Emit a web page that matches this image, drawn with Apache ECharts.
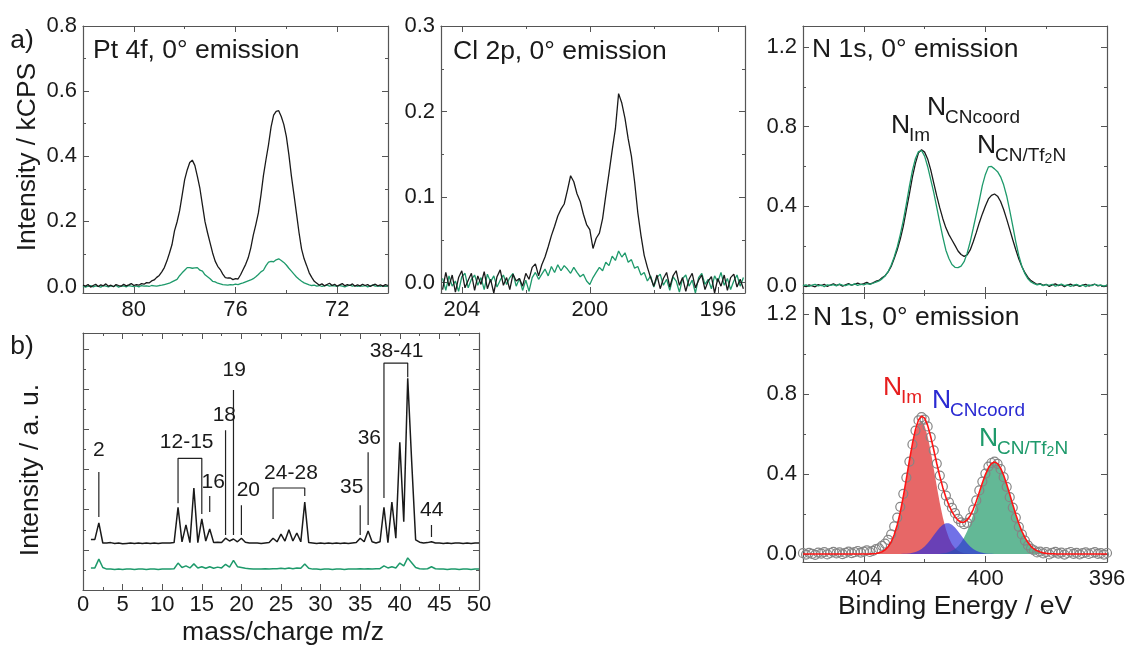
<!DOCTYPE html>
<html>
<head>
<meta charset="utf-8">
<script src="https://cdn.jsdelivr.net/npm/echarts@6/dist/echarts.min.js"></script>
<style>
  html, body { margin: 0; padding: 0; background: #fff; }
  #chart { width: 1127px; height: 646px; }
</style>
</head>
<body>
<div id="chart"></div>
<script>
// ---------- Pt 4f, 0° emission (binding energy grid 82.0 -> 70.0 eV, 0.1 eV step) ----------
const ptStart = 82.0, ptStep = -0.1;
const ptBlack = [
  0.004, 0.001, 0.006, -0.002, 0.003, 0.007, 0.000, 0.005, 0.002, 0.008,
  0.001, 0.004, -0.001, 0.006, 0.003, 0.001, 0.007, 0.002, 0.005, 0.009,
  0.003, 0.006, 0.004, 0.009, 0.007, 0.012, 0.011, 0.017, 0.020, 0.028,
  0.034, 0.045, 0.058, 0.078, 0.102, 0.128, 0.171, 0.198, 0.232, 0.280,
  0.328, 0.358, 0.381, 0.388, 0.372, 0.338, 0.301, 0.250, 0.199, 0.165,
  0.134, 0.103, 0.078, 0.062, 0.052, 0.038, 0.027, 0.026, 0.026, 0.021,
  0.024, 0.023, 0.036, 0.052, 0.068, 0.088, 0.118, 0.158, 0.190, 0.226,
  0.280, 0.341, 0.390, 0.436, 0.490, 0.526, 0.538, 0.540, 0.522, 0.498,
  0.461, 0.405, 0.339, 0.282, 0.224, 0.165, 0.115, 0.085, 0.064, 0.042,
  0.028, 0.016, 0.010, 0.004, 0.008, 0.002, 0.006, 0.010, 0.003, 0.007,
  0.001, 0.005, 0.009, 0.002, 0.006, 0.003, 0.008, 0.001, 0.005, 0.002,
  0.007, 0.003, 0.006, 0.000, 0.004, 0.007, 0.002, 0.005, 0.001, 0.006,
  0.003
];
const ptGreen = [
  0.002, -0.002, 0.001, 0.003, -0.001, 0.002, 0.000, -0.002, 0.003, 0.001,
  -0.001, 0.002, 0.000, 0.003, -0.002, 0.001, 0.002, -0.001, 0.003, 0.001,
  0.000, 0.002, -0.001, 0.003, 0.001, 0.002, 0.000, 0.003, 0.002, 0.001,
  0.003, 0.004, 0.006, 0.008, 0.010, 0.014, 0.018, 0.022, 0.033, 0.042,
  0.050, 0.058, 0.058, 0.056, 0.057, 0.058, 0.050, 0.047, 0.036, 0.030,
  0.024, 0.016, 0.014, 0.010, 0.008, 0.006, 0.005, 0.004, 0.006, 0.005,
  0.007, 0.006, 0.009, 0.011, 0.014, 0.017, 0.020, 0.024, 0.030, 0.037,
  0.045, 0.050, 0.064, 0.075, 0.077, 0.076, 0.082, 0.085, 0.080, 0.074,
  0.066, 0.056, 0.047, 0.038, 0.029, 0.022, 0.016, 0.011, 0.008, 0.005,
  0.003, 0.004, 0.001, 0.003, 0.000, 0.002, 0.004, 0.001, 0.003, 0.002,
  0.000, 0.003, 0.001, -0.001, 0.002, 0.004, 0.001, 0.003, 0.000, 0.002,
  0.001, 0.003, -0.001, 0.002, 0.004, 0.001, 0.002, 0.000, 0.003, 0.001,
  0.002
];

// ---------- Cl 2p, 0° emission (204.6 -> 195.2 eV, 0.1 eV step) ----------
const clStart = 204.6, clStep = -0.1;
const clBlack = [
  -0.008, 0.012, -0.004, 0.009, -0.011, 0.006, 0.014, -0.006, 0.003, 0.011,
  -0.009, 0.008, -0.002, 0.013, -0.007, 0.004, -0.012, 0.007, 0.015, -0.003,
  0.006, -0.008, 0.010, 0.002, 0.005, -0.004, 0.011, 0.004, 0.018, 0.022,
  0.008, 0.021, 0.030, 0.042, 0.055, 0.066, 0.078, 0.086, 0.092, 0.108,
  0.125, 0.118, 0.104, 0.095, 0.080, 0.068, 0.062, 0.040, 0.052, 0.058,
  0.075, 0.102, 0.128, 0.155, 0.180, 0.221, 0.210, 0.192, 0.168, 0.148,
  0.118, 0.082, 0.055, 0.032, 0.018, 0.006, -0.004, 0.009, -0.007, 0.005,
  0.012, -0.005, 0.008, 0.014, -0.003, 0.006, -0.010, 0.004, 0.011, -0.006,
  0.003, 0.009, -0.008, 0.002, 0.007, -0.012, 0.005, -0.004, 0.009, -0.009,
  0.006, 0.010, -0.005, 0.004, -0.007
];
const clGreen = [
  0.005, -0.009, 0.008, -0.004, 0.002, -0.010, 0.007, 0.011, -0.006, 0.004,
  0.009, -0.003, 0.006, -0.008, 0.010, 0.001, 0.008, -0.005, 0.003, 0.009,
  -0.002, 0.006, 0.011, -0.004, 0.005, -0.009, 0.003, -0.010, 0.006, 0.012,
  0.004, 0.010, 0.016, 0.008, 0.019, 0.012, 0.021, 0.014, 0.020, 0.016,
  0.011, 0.018, 0.012, 0.007, 0.010, 0.002, -0.002, 0.006, 0.012, 0.018,
  0.014, 0.024, 0.020, 0.031, 0.026, 0.037, 0.030, 0.035, 0.024, 0.027,
  0.017, 0.019, 0.009, 0.012, 0.002, 0.008, -0.005, 0.006, 0.010, -0.003,
  0.004, -0.009, 0.007, 0.002, -0.011, 0.005, 0.009, -0.004, 0.003, -0.012,
  0.006, 0.011, -0.002, 0.004, -0.007, 0.008, 0.001, 0.012, -0.003, 0.005,
  -0.008, 0.002, 0.009, -0.004, 0.006
];

// ---------- N 1s, 0° emission (406.0 -> 396.0 eV, 0.1 eV step) ----------
const nStart = 406.0, nStep = -0.1;
const nBlack = [
  0.004, -0.003, 0.006, 0.001, -0.004, 0.007, 0.002, 0.009, -0.002, 0.005,
  0.011, 0.003, 0.008, -0.001, 0.006, 0.012, 0.004, 0.009, 0.015, 0.007,
  0.012, 0.018, 0.010, 0.016, 0.024, 0.028, 0.041, 0.052, 0.071, 0.098,
  0.138, 0.182, 0.236, 0.301, 0.382, 0.462, 0.548, 0.617, 0.668, 0.684,
  0.672, 0.638, 0.584, 0.518, 0.452, 0.392, 0.338, 0.292, 0.258, 0.231,
  0.204, 0.176, 0.158, 0.149, 0.156, 0.181, 0.222, 0.268, 0.318, 0.362,
  0.402, 0.437, 0.455, 0.462, 0.451, 0.424, 0.384, 0.336, 0.284, 0.232,
  0.182, 0.136, 0.098, 0.067, 0.043, 0.027, 0.018, 0.008, 0.012, 0.003,
  0.009, -0.002, 0.006, 0.011, 0.002, 0.007, -0.003, 0.005, 0.010, 0.001,
  0.006, -0.002, 0.004, 0.008, 0.000, 0.005, 0.009, 0.001, 0.004, -0.003,
  0.005
];
const nGreen = [
  0.002, 0.006, -0.002, 0.004, 0.008, 0.001, 0.005, -0.003, 0.006, 0.003,
  0.007, 0.001, 0.010, 0.004, 0.002, 0.008, 0.005, 0.011, 0.003, 0.009,
  0.006, 0.012, 0.008, 0.014, 0.020, 0.026, 0.036, 0.050, 0.072, 0.104,
  0.146, 0.196, 0.258, 0.330, 0.412, 0.500, 0.580, 0.640, 0.675, 0.680,
  0.652, 0.600, 0.535, 0.470, 0.395, 0.318, 0.245, 0.180, 0.138, 0.108,
  0.094, 0.092, 0.100, 0.122, 0.165, 0.222, 0.290, 0.360, 0.430, 0.505,
  0.560, 0.598, 0.600, 0.588, 0.574, 0.548, 0.508, 0.452, 0.380, 0.302,
  0.222, 0.152, 0.098, 0.062, 0.036, 0.020, 0.012, 0.006, 0.010, 0.002,
  0.007, 0.003, 0.009, -0.001, 0.005, 0.010, 0.002, 0.006, -0.002, 0.004,
  0.008, 0.001, 0.005, -0.003, 0.006, 0.002, 0.009, 0.003, 0.005, 0.000,
  0.004
];
// Fitted components on the same grid
const fitIm = [
  0, 0, 0, 0, 0, 0, 0, 0, 0, 0,
  0, 0, 0, 0, 0, 0, 0, 0, 0, 0,
  0.0001, 0.0002, 0.0006, 0.0013, 0.0028, 0.0057, 0.011, 0.0205, 0.036, 0.0602,
  0.096, 0.1453, 0.2093, 0.2868, 0.3738, 0.4635, 0.5466, 0.6133, 0.6544, 0.6643,
  0.6415, 0.5892, 0.5148, 0.4279, 0.3382, 0.2544, 0.1819, 0.1238, 0.0801, 0.0493,
  0.0289, 0.0161, 0.0085, 0.0043, 0.0021, 0.0009, 0.0004, 0.0002, 0.0001, 0,
  0, 0, 0, 0, 0, 0, 0, 0, 0, 0,
  0, 0, 0, 0, 0, 0, 0, 0, 0, 0,
  0, 0, 0, 0, 0, 0, 0, 0, 0, 0,
  0, 0, 0, 0, 0, 0, 0, 0, 0, 0,
  0
];
const fitCNcoord = [
  0, 0, 0, 0, 0, 0, 0, 0, 0, 0,
  0, 0, 0, 0, 0, 0, 0, 0, 0, 0,
  0, 0, 0, 0, 0, 0, 0, 0, 0, 0,
  0, 0, 0.0004, 0.0008, 0.0016, 0.0031, 0.0057, 0.0098, 0.0162, 0.0255,
  0.038, 0.0539, 0.0728, 0.0934, 0.1141, 0.1326, 0.1466, 0.1541, 0.1541, 0.1466,
  0.1326, 0.1141, 0.0934, 0.0728, 0.0539, 0.038, 0.0255, 0.0162, 0.0098, 0.0057,
  0.0031, 0.0016, 0.0008, 0.0004, 0, 0, 0, 0, 0, 0,
  0, 0, 0, 0, 0, 0, 0, 0, 0, 0,
  0, 0, 0, 0, 0, 0, 0, 0, 0, 0,
  0, 0, 0, 0, 0, 0, 0, 0, 0, 0,
  0
];
const fitCNTf2N = [
  0, 0, 0, 0, 0, 0, 0, 0, 0, 0,
  0, 0, 0, 0, 0, 0, 0, 0, 0, 0,
  0, 0, 0, 0, 0, 0, 0, 0, 0, 0,
  0, 0, 0, 0, 0, 0, 0, 0, 0, 0,
  0, 0, 0, 0, 0, 0.0017, 0.0032, 0.0056, 0.0095, 0.0157,
  0.025, 0.0384, 0.0571, 0.082, 0.1139, 0.1526, 0.1976, 0.2473, 0.299, 0.349,
  0.394, 0.4293, 0.4521, 0.46, 0.4521, 0.4293, 0.394, 0.349, 0.299, 0.2473,
  0.1976, 0.1526, 0.1139, 0.082, 0.0571, 0.0384, 0.025, 0.0157, 0.0095, 0.0056,
  0.0032, 0.0017, 0.0009, 0.0004, 0.0002, 0.0001, 0, 0, 0, 0,
  0, 0, 0, 0, 0, 0, 0, 0, 0, 0,
  0
];

// ---------- Mass spectrum (m/z 1 -> 50, 0.5 step) ----------
const qmsStart = 1, qmsStep = 0.5;
const qmsBlack = [
  1.26, 1.26, 1.67, 1.17, 1.17, 1.18, 1.16, 1.17, 1.15, 1.16,
  1.17, 1.16, 1.17, 1.16, 1.17, 1.16, 1.17, 1.16, 1.17, 1.17,
  1.17, 1.18, 2.06, 1.20, 1.62, 1.18, 2.54, 1.18, 1.77, 1.22,
  1.52, 1.18, 1.19, 1.18, 1.29, 1.22, 1.27, 1.20, 1.29, 1.19,
  1.17, 1.17, 1.17, 1.16, 1.17, 1.18, 1.29, 1.20, 1.39, 1.22,
  1.50, 1.22, 1.42, 1.20, 2.19, 1.18, 1.17, 1.16, 1.17, 1.16,
  1.17, 1.16, 1.17, 1.16, 1.17, 1.16, 1.17, 1.18, 1.29, 1.20,
  1.47, 1.20, 1.17, 1.20, 2.06, 1.18, 2.19, 1.29, 3.68, 1.70,
  5.27, 3.20, 1.25, 1.19, 1.17, 1.18, 1.20, 1.17, 1.17, 1.16,
  1.17, 1.16, 1.17, 1.17, 1.16, 1.17, 1.16, 1.17, 1.17
];
const qmsGreen = [
  0.55, 0.55, 0.77, 0.56, 0.52, 0.52, 0.51, 0.52, 0.51, 0.52,
  0.52, 0.51, 0.52, 0.52, 0.51, 0.52, 0.52, 0.51, 0.52, 0.52,
  0.52, 0.53, 0.67, 0.56, 0.60, 0.55, 0.65, 0.55, 0.58, 0.54,
  0.58, 0.54, 0.57, 0.55, 0.64, 0.57, 0.74, 0.58, 0.56, 0.54,
  0.53, 0.52, 0.52, 0.52, 0.53, 0.52, 0.53, 0.53, 0.54, 0.53,
  0.55, 0.53, 0.55, 0.54, 0.65, 0.54, 0.52, 0.52, 0.51, 0.52,
  0.52, 0.51, 0.52, 0.52, 0.51, 0.52, 0.52, 0.52, 0.53, 0.52,
  0.53, 0.52, 0.53, 0.53, 0.60, 0.55, 0.58, 0.55, 0.67, 0.60,
  0.80, 0.68, 0.56, 0.53, 0.52, 0.53, 0.58, 0.53, 0.52, 0.52,
  0.51, 0.52, 0.52, 0.51, 0.52, 0.52, 0.51, 0.52, 0.52
];
// Peak assignment markers (m/z, a.u.)
const qmsMarkPaths = [
  [[2, 1.82], [2, 2.94]],
  [[12, 2.16], [12, 3.28], [15, 3.28], [15, 1.89]],
  [[16, 1.94], [16, 2.34]],
  [[18, 1.37], [18, 3.98]],
  [[19, 1.37], [19, 4.98]],
  [[20, 1.37], [20, 2.11]],
  [[24, 1.77], [24, 2.54], [28, 2.54], [28, 2.34]],
  [[35, 1.37], [35, 2.11]],
  [[36, 1.62], [36, 3.43]],
  [[38, 2.29], [38, 5.65], [41, 5.65], [41, 5.30]],
  [[44, 1.32], [44, 1.62]]
];
const qmsMarkText = ['2', '12-15', '16', '18', '19', '20', '24-28', '35', '36', '38-41', '44'];
const qmsMarkTextAt = [
  [2, 3.48], [13.09, 3.69], [16.45, 2.69], [17.85, 4.35], [19.1, 5.47], [20.88, 2.49],
  [26.26, 2.9], [33.92, 2.55], [36.15, 3.77], [39.6, 5.95], [44.03, 1.99]
];

// Tick values
const ptTicks = { xMajor: [72, 76, 80], xMinor: [74, 78], yMajor: [0, 0.2, 0.4, 0.6, 0.8], yMinor: [0.1, 0.3, 0.5, 0.7] };
const clTicks = { xMajor: [196, 200, 204], xMinor: [198, 202], yMajor: [0, 0.1, 0.2, 0.3], yMinor: [0.05, 0.15, 0.25] };
const nTicks = { xMajor: [396, 400, 404], xMinor: [398, 402], yMajor: [0, 0.4, 0.8, 1.2], yMinor: [0.2, 0.6, 1.0] };
const qmsTicks = {
  xMajor: [0, 5, 10, 15, 20, 25, 30, 35, 40, 45, 50],
  xMinor: [2.5, 7.5, 12.5, 17.5, 22.5, 27.5, 32.5, 37.5, 42.5, 47.5],
  yMajor: [1, 2, 3, 4, 5, 6],
  yMinor: [0.5, 1.5, 2.5, 3.5, 4.5, 5.5]
};

// ---------- drawing ----------
const FONT = '"Liberation Sans", Arial, Helvetica, sans-serif';
const INK = '#1a1a1a';
const FRAME = '#555555';
const BLACK = '#1a1a1a';
const GREEN = '#1e9a6b';

const onGrid = (start, step, values) =>
  values.map((v, i) => [Math.round((start + i * step) * 100) / 100, v]);

const xAxes = [], yAxes = [];
function makeAxis(grid, r, pos, ticks, len, labelCfg, showLine) {
  return {
    type: 'value', gridIndex: grid, position: pos,
    min: r.min, max: r.max, inverse: !!r.inverse,
    axisLine: { show: showLine, onZero: false, lineStyle: { color: FRAME, width: 1.2 } },
    axisTick: { show: ticks.length > 0, inside: true, length: len, customValues: ticks,
                lineStyle: { color: FRAME, width: 1 } },
    axisLabel: labelCfg ? Object.assign({ show: true, color: INK, fontSize: 22, fontFamily: FONT }, labelCfg)
                        : { show: false },
    splitLine: { show: false },
    axisPointer: { show: false },
    silent: true
  };
}
function frame(grid, xr, yr, t) {
  const xi = xAxes.length, yi = yAxes.length;
  xAxes.push(
    makeAxis(grid, xr, 'bottom', t.xMajor, 6, xr.label, true),
    makeAxis(grid, xr, 'bottom', t.xMinor, 3, null, false),
    makeAxis(grid, xr, 'top', t.xMajor, 6, null, true),
    makeAxis(grid, xr, 'top', t.xMinor, 3, null, false)
  );
  yAxes.push(
    makeAxis(grid, yr, 'left', t.yMajor, 6, yr.label, true),
    makeAxis(grid, yr, 'left', t.yMinor, 3, null, false),
    makeAxis(grid, yr, 'right', t.yMajor, 6, null, true),
    makeAxis(grid, yr, 'right', t.yMinor, 3, null, false)
  );
  return { x: xi, y: yi };
}
const intLabel = (vals, margin) => ({ customValues: vals, margin, formatter: v => String(Math.round(v)) });
const decLabel = (vals) => ({ customValues: vals, margin: 6, formatter: v => v.toFixed(1) });

const aPt = frame(0, { min: 70, max: 82, inverse: true, label: intLabel(ptTicks.xMajor, 6) },
                    { min: -0.02, max: 0.8, label: decLabel(ptTicks.yMajor) }, ptTicks);
const aCl = frame(1, { min: 195.15, max: 204.65, inverse: true, label: intLabel(clTicks.xMajor, 6) },
                    { min: -0.012, max: 0.3, label: decLabel(clTicks.yMajor) }, clTicks);
const aN = frame(2, { min: 396, max: 406, inverse: true, label: null },
                   { min: -0.035, max: 1.305, label: decLabel(nTicks.yMajor) }, nTicks);
const aFit = frame(3, { min: 396, max: 406, inverse: true, label: intLabel(nTicks.xMajor, 6) },
                     { min: -0.04, max: 1.305, label: decLabel(nTicks.yMajor) }, nTicks);
const aQms = frame(4, { min: 0, max: 50, label: intLabel(qmsTicks.xMajor, 4) },
                      { min: 0, max: 6.4, label: null }, qmsTicks);

function trace(ax, data, color, width, z) {
  return {
    type: 'line', xAxisIndex: ax.x, yAxisIndex: ax.y, data,
    showSymbol: false, symbol: 'none', smooth: false,
    lineStyle: { color, width }, itemStyle: { color },
    z: z || 2, silent: true, clip: true
  };
}
function area(ax, data, fill, z) {
  return {
    type: 'line', xAxisIndex: ax.x, yAxisIndex: ax.y, data,
    showSymbol: false, symbol: 'none',
    lineStyle: { width: 0, opacity: 0 }, areaStyle: { color: fill, opacity: 1 },
    z, silent: true, clip: true
  };
}

const nGridX = onGrid(nStart, nStep, nBlack);
const envelope = fitIm.map((v, i) => v + fitCNcoord[i] + fitCNTf2N[i]);

const series = [
  trace(aPt, onGrid(ptStart, ptStep, ptGreen), GREEN, 1.3),
  trace(aPt, onGrid(ptStart, ptStep, ptBlack), BLACK, 1.3),
  trace(aCl, onGrid(clStart, clStep, clGreen), GREEN, 1.3),
  trace(aCl, onGrid(clStart, clStep, clBlack), BLACK, 1.3),
  trace(aN, nGridX, BLACK, 1.3),
  trace(aN, onGrid(nStart, nStep, nGreen), GREEN, 1.3),
  area(aFit, onGrid(nStart, nStep, fitIm), 'rgba(222,45,45,0.72)', 2),
  area(aFit, onGrid(nStart, nStep, fitCNTf2N), 'rgba(25,150,100,0.68)', 3),
  area(aFit, onGrid(nStart, nStep, fitCNcoord), 'rgba(45,45,220,0.68)', 4),
  {
    type: 'scatter', xAxisIndex: aFit.x, yAxisIndex: aFit.y, data: nGridX,
    symbol: 'circle', symbolSize: 9,
    itemStyle: { color: 'rgba(0,0,0,0)', borderColor: '#858585', borderWidth: 1.2, opacity: 1 },
    z: 5, silent: true
  },
  trace(aFit, onGrid(nStart, nStep, envelope), '#ff1414', 1.6, 6),
  trace(aQms, onGrid(qmsStart, qmsStep, qmsGreen), GREEN, 1.5),
  trace(aQms, onGrid(qmsStart, qmsStep, qmsBlack), BLACK, 1.5)
];
qmsMarkPaths.forEach(p => series.push(trace(aQms, p, '#222222', 1.2, 3)));
series.push({
  type: 'scatter', xAxisIndex: aQms.x, yAxisIndex: aQms.y,
  data: qmsMarkTextAt.map((p, i) => ({ value: p, name: qmsMarkText[i] })),
  symbol: 'circle', symbolSize: 1, itemStyle: { color: 'rgba(0,0,0,0)', opacity: 1 },
  label: { show: true, position: 'inside', formatter: '{b}', color: INK, opacity: 1,
           fontSize: 21, fontFamily: FONT },
  z: 6, silent: true
});

// ---------- text ----------
function text(x, y, str, extra) {
  return {
    type: 'text', x, y, silent: true, rotation: (extra && extra.rotation) || 0,
    style: Object.assign({
      text: str, fill: INK, fontSize: 26.5, fontFamily: FONT, align: 'left', verticalAlign: 'middle'
    }, extra && extra.style)
  };
}
function species(x, y, sub, color) {
  const main = text(x, y, 'N', { style: { fill: color, fontSize: 26.5 } });
  const s = sub === 'CN/Tf2N'
    ? text(x + 18, y + 10.5, '{a|CN/Tf}{b|2}{a|N}', { style: { fill: color, fontSize: 19,
        rich: { a: { fill: color, fontSize: 19, fontFamily: FONT, lineHeight: 20 },
                b: { fill: color, fontSize: 14, fontFamily: FONT, lineHeight: 14, verticalAlign: 'bottom' } } } })
    : text(x + 18, y + 10.5, sub, { style: { fill: color, fontSize: 19 } });
  return [main, s];
}

const graphics = [
  text(22, 41, 'a)', { style: { align: 'center' } }),
  text(22, 347, 'b)', { style: { align: 'center' } }),
  text(28, 157, 'Intensity / kCPS', { rotation: Math.PI / 2, style: { align: 'center' } }),
  text(31, 470, 'Intensity / a. u.', { rotation: Math.PI / 2, style: { align: 'center' } }),
  text(283, 633, 'mass/charge m/z', { style: { align: 'center' } }),
  text(955, 607, 'Binding Energy / eV', { style: { align: 'center' } }),
  text(93, 50.5, 'Pt 4f, 0° emission'),
  text(453, 51.5, 'Cl 2p, 0° emission'),
  text(812, 50, 'N 1s, 0° emission'),
  text(813, 318, 'N 1s, 0° emission'),
  ...species(891, 125.5, 'Im', INK),
  ...species(927, 107.5, 'CNcoord', INK),
  ...species(977, 145.5, 'CN/Tf2N', INK),
  ...species(883, 387.5, 'Im', '#e61e1e'),
  ...species(932, 400.5, 'CNcoord', '#2a2ad2'),
  ...species(979, 438.5, 'CN/Tf2N', '#1e9a6b')
];

const chart = echarts.init(document.getElementById('chart'), null, { renderer: 'canvas' });
chart.setOption({
  animation: false,
  backgroundColor: '#ffffff',
  textStyle: { fontFamily: FONT },
  grid: [
    { left: 83, top: 26, width: 305, height: 267, containLabel: false, outerBoundsMode: 'none' },
    { left: 441, top: 26, width: 304, height: 267, containLabel: false, outerBoundsMode: 'none' },
    { left: 803, top: 26, width: 304, height: 267, containLabel: false, outerBoundsMode: 'none' },
    { left: 803, top: 293, width: 304, height: 269, containLabel: false, outerBoundsMode: 'none' },
    { left: 83, top: 333, width: 396, height: 257, containLabel: false, outerBoundsMode: 'none' }
  ],
  xAxis: xAxes,
  yAxis: yAxes,
  series,
  graphic: { elements: graphics }
});
</script>
</body>
</html>
